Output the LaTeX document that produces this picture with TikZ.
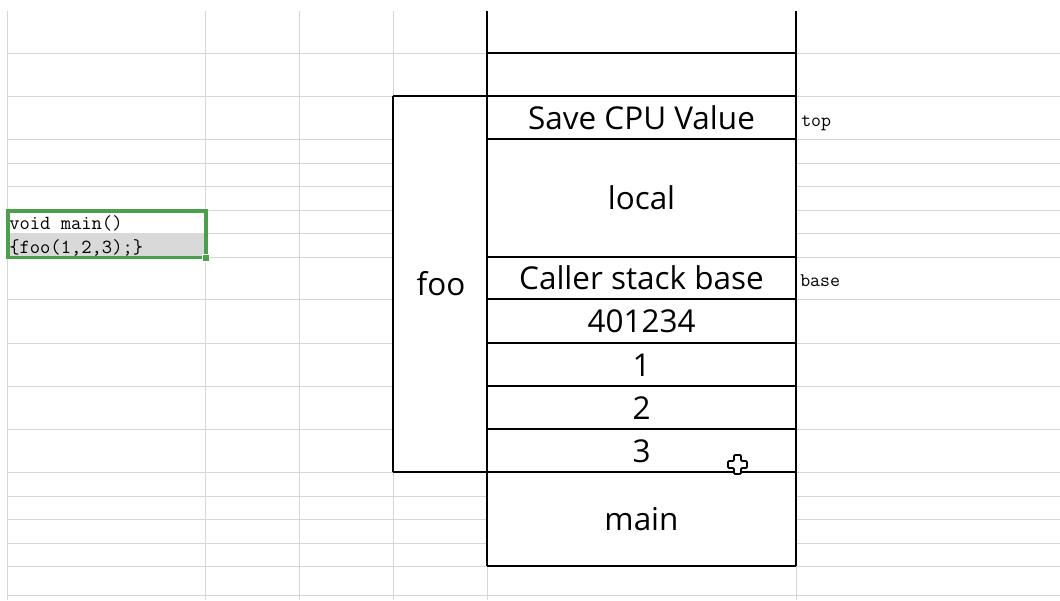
\documentclass[tikz,border=0pt]{standalone}
\usepackage{fontspec}
\newfontfamily\cellfont{Open Sans}
\definecolor{gridgray}{RGB}{214,214,214}
\definecolor{selgreen}{RGB}{76,160,76}
\definecolor{selfill}{RGB}{217,217,217}
\begin{document}
\begin{tikzpicture}[x=0.75pt,y=-0.75pt,
  gridline/.style={draw=gridgray,line width=0.75pt},
  border/.style={draw=black,line width=1.2pt},
  celltext/.style={anchor=base,inner sep=0pt,font=\cellfont\fontsize{23.6}{28}\selectfont},
  codetext/.style={anchor=base west,inner sep=0pt,font=\ttfamily\fontsize{15}{17}\selectfont},
  sidetext/.style={anchor=base west,inner sep=0pt,font=\ttfamily\fontsize{14.5}{17}\selectfont}]
\useasboundingbox (0,0) rectangle (1060,600);
\fill[white] (0,0) rectangle (1060,600);
% spreadsheet grid
\foreach \x in {7,205,299,393,487,796}
  \draw[gridline] (\x,11) -- (\x,600);
\foreach \y in {53,96,139,163,186,210,233,257,299,343,386,429,472,496,519,543,566,595}
  \draw[gridline] (7,\y) -- (1060,\y);
% merged cells
\fill[white] (487,11) rectangle (796,566);
\fill[white] (393,96) rectangle (487,472);
% stack borders
\draw[border] (487,11) -- (487,566);
\draw[border] (796,11) -- (796,566);
\foreach \y in {53,139,257,299,343,386,429,566}
  \draw[border] (487,\y) -- (796,\y);
\draw[border] (393,96) -- (796,96);
\draw[border] (393,472) -- (796,472);
\draw[border] (393,96) -- (393,472);
% stack texts
\node[celltext] (save) at (641.5,129) {Save CPU Value};
\node[celltext] (local) at (641.5,209.5) {local};
\node[celltext] (caller) at (641.5,289) {Caller stack base};
\node[celltext] (ret) at (641.5,332.5) {401234};
\node[celltext] (a1) at (641.5,376) {1};
\node[celltext] (a2) at (641.5,419) {2};
\node[celltext] (a3) at (641.5,462) {3};
\node[celltext] (main) at (641.5,530) {main};
\node[celltext] (foo) at (441,295) {foo};
% side labels
\node[sidetext] (top) at (801,126) {top};
\node[sidetext] (base) at (800,286) {base};
% selected code cell
\fill[selfill] (9,233) rectangle (205,257);
\node[codetext] (code1) at (9,229) {void main()};
\node[codetext] (code2) at (9,253) {\{foo(1,2,3);\}};
\draw[selgreen,line width=2.3pt] (8,211) rectangle (206,257.5);
\filldraw[fill=selgreen,draw=white,line width=0.6pt] (202,254.5) rectangle (209,261.5);
% mouse cursor
\filldraw[fill=white,draw=black,line width=1.3pt,rounded corners=0.8pt]
  (734,455) -- (741,455) -- (741,461) -- (747,461) -- (747,468) -- (741,468)
  -- (741,474) -- (734,474) -- (734,468) -- (728,468) -- (728,461) -- (734,461) -- cycle;
\end{tikzpicture}
\end{document}
